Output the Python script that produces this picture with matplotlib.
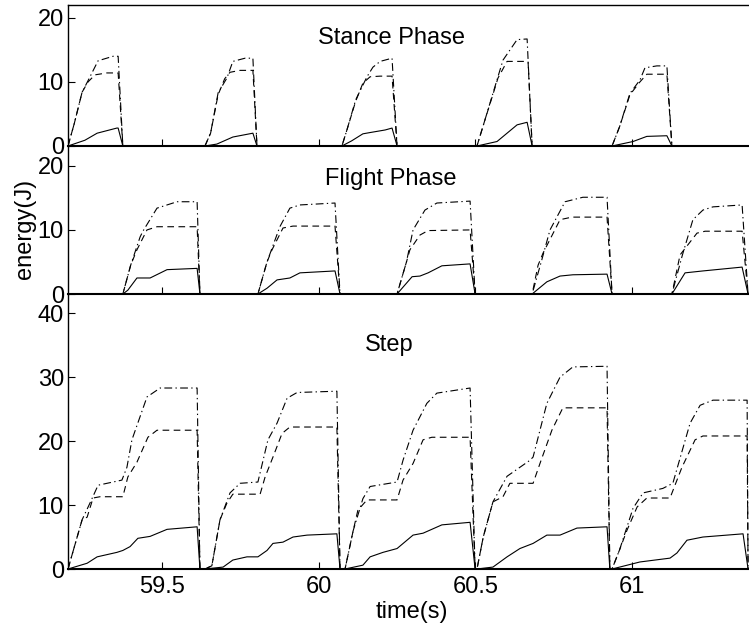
import matplotlib
matplotlib.use("Agg")
import matplotlib.pyplot as plt
import numpy as np

plt.rcParams['font.family'] = ['Liberation Sans', 'DejaVu Sans']

# ---------------- data (time in s, energy in J) ----------------
stance_t_solid = [59.2, 59.254, 59.293, 59.356, 59.360, 59.375,
                  59.637, 59.675, 59.726, 59.790, 59.803,
                  60.074, 60.105, 60.141, 60.164, 60.212, 60.234, 60.250,
                  60.505, 60.569, 60.601, 60.633, 60.665, 60.681,
                  60.936, 61.003, 61.047, 61.111, 61.127, 61.373]
stance_y_solid = [0, 0.9, 2.0, 2.8, 2.8, 0,
                  0, 0.3, 1.4, 2.0, 0,
                  0, 0.8, 1.9, 2.1, 2.5, 2.8, 0,
                  0, 0.7, 2.0, 3.3, 3.7, 0,
                  0, 0.7, 1.5, 1.6, 0, 0]

stance_t_dash = [59.2, 59.22, 59.245, 59.264, 59.286, 59.324, 59.360, 59.375,
                 59.637, 59.655, 59.679, 59.700, 59.717, 59.749, 59.790, 59.803,
                 60.074, 60.09, 60.118, 60.141, 60.164, 60.196, 60.234, 60.250,
                 60.505, 60.53, 60.562, 60.572, 60.601, 60.668, 60.681,
                 60.936, 60.96, 60.993, 61.025, 61.047, 61.111, 61.127, 61.373]
stance_y_dash = [0, 3.5, 8.4, 10.0, 11.1, 11.4, 11.4, 0,
                 0, 2.0, 8.0, 10.5, 11.5, 11.8, 11.8, 0,
                 0, 2.5, 7.0, 9.8, 10.8, 10.9, 10.9, 0,
                 0, 4.0, 9.0, 10.6, 13.2, 13.2, 0,
                 0, 3.0, 8.0, 10.0, 11.2, 11.2, 0, 0]

stance_t_dashdot = [59.2, 59.22, 59.245, 59.264, 59.296, 59.344, 59.360, 59.375,
                    59.637, 59.655, 59.679, 59.707, 59.726, 59.765, 59.790, 59.803,
                    60.074, 60.09, 60.118, 60.134, 60.154, 60.173, 60.196, 60.234, 60.250,
                    60.505, 60.53, 60.562, 60.588, 60.633, 60.665, 60.681,
                    60.936, 60.96, 60.993, 61.025, 61.041, 61.079, 61.111, 61.127, 61.373]
stance_y_dashdot = [0, 3.5, 8.4, 10.2, 13.3, 14.0, 14.0, 0,
                    0, 2.0, 8.3, 10.6, 13.2, 13.7, 13.7, 0,
                    0, 2.5, 7.2, 8.8, 10.8, 12.3, 13.2, 13.7, 0,
                    0, 4.0, 9.2, 13.4, 16.6, 16.7, 0,
                    0, 3.0, 8.2, 10.3, 12.2, 12.5, 12.5, 0, 0]

flight_t_solid = [59.2, 59.375, 59.391, 59.420, 59.462, 59.516, 59.612, 59.621,
                  59.806, 59.835, 59.867, 59.908, 59.940, 60.052, 60.068,
                  60.250, 60.298, 60.323, 60.349, 60.393, 60.483, 60.499,
                  60.681, 60.728, 60.770, 60.811, 60.920, 60.936,
                  61.127, 61.169, 61.226, 61.351, 61.370]
flight_y_solid = [0, 0, 0.6, 2.5, 2.5, 3.8, 4.0, 0,
                  0, 0.9, 2.2, 2.5, 3.3, 3.6, 0,
                  0, 2.7, 2.8, 3.3, 4.4, 4.7, 0,
                  0, 1.9, 2.8, 3.0, 3.1, 0,
                  0, 3.3, 3.6, 4.2, 0]

flight_t_dash = [59.2, 59.375, 59.40, 59.420, 59.452, 59.484, 59.612, 59.621,
                 59.806, 59.835, 59.851, 59.886, 59.918, 60.052, 60.068,
                 60.250, 60.28, 60.291, 60.323, 60.349, 60.483, 60.499,
                 60.681, 60.70, 60.716, 60.770, 60.808, 60.920, 60.936,
                 61.127, 61.153, 61.207, 61.233, 61.351, 61.370]
flight_y_dash = [0, 0, 4.5, 6.9, 10.0, 10.5, 10.5, 0,
                 0, 5.0, 6.9, 10.3, 10.6, 10.6, 0,
                 0, 5.0, 6.9, 9.2, 9.9, 10.0, 0,
                 0, 4.5, 6.4, 11.6, 12.0, 12.0, 0,
                 0, 6.1, 9.5, 9.8, 9.8, 0]

flight_t_dashdot = [59.2, 59.375, 59.40, 59.430, 59.439, 59.484, 59.548, 59.612, 59.621,
                    59.806, 59.835, 59.876, 59.908, 59.940, 60.052, 60.068,
                    60.250, 60.28, 60.301, 60.339, 60.377, 60.483, 60.499,
                    60.681, 60.71, 60.738, 60.786, 60.843, 60.920, 60.936,
                    61.127, 61.16, 61.194, 61.226, 61.258, 61.351, 61.370]
flight_y_dashdot = [0, 0, 4.5, 8.9, 9.8, 13.4, 14.4, 14.4, 0,
                    0, 5.0, 10.5, 13.4, 13.9, 14.2, 0,
                    0, 5.0, 10.0, 13.1, 14.2, 14.5, 0,
                    0, 5.0, 10.0, 14.4, 15.1, 15.1, 0,
                    0, 6.0, 11.6, 13.1, 13.6, 13.9, 0]

step_t_solid = [59.2, 59.261, 59.293, 59.356, 59.375, 59.398, 59.423, 59.462, 59.516, 59.612, 59.621,
                59.637, 59.695, 59.726, 59.771, 59.806, 59.835, 59.854, 59.886, 59.918, 59.963, 60.058, 60.068,
                60.084, 60.141, 60.164, 60.205, 60.250, 60.301, 60.333, 60.393, 60.483, 60.499,
                60.505, 60.556, 60.601, 60.642, 60.684, 60.728, 60.770, 60.824, 60.920, 60.929,
                60.936, 61.025, 61.121, 61.143, 61.175, 61.226, 61.354, 61.370]
step_y_solid = [0, 0.9, 1.9, 2.6, 2.9, 3.5, 4.8, 5.1, 6.2, 6.6, 0,
                0, 0.3, 1.4, 1.9, 1.9, 2.9, 4.0, 4.2, 5.0, 5.3, 5.5, 0,
                0, 0.6, 1.9, 2.6, 3.2, 5.3, 5.6, 6.9, 7.3, 0,
                0, 0.3, 1.9, 3.2, 4.0, 5.3, 5.3, 6.4, 6.6, 0,
                0, 1.1, 1.7, 2.5, 4.5, 5.0, 5.5, 0]

step_t_dash = [59.2, 59.245, 59.261, 59.280, 59.302, 59.375, 59.391, 59.420, 59.455, 59.484, 59.612, 59.621,
               59.637, 59.659, 59.685, 59.707, 59.726, 59.813, 59.829, 59.854, 59.883, 59.908, 60.058, 60.068,
               60.084, 60.11, 60.125, 60.154, 60.250, 60.269, 60.301, 60.333, 60.361, 60.483, 60.499,
               60.505, 60.525, 60.556, 60.588, 60.610, 60.684, 60.706, 60.744, 60.779, 60.920, 60.929,
               60.936, 60.96, 60.984, 61.016, 61.047, 61.121, 61.159, 61.201, 61.226, 61.367, 61.370]
step_y_dash = [0, 7.7, 8.1, 11.1, 11.3, 11.3, 14.4, 16.7, 20.6, 21.7, 21.7, 0,
               0, 0.5, 7.7, 10.3, 11.7, 11.7, 14.4, 17.5, 21.2, 22.2, 22.2, 0,
               0, 6.0, 9.2, 10.8, 10.8, 13.9, 16.5, 20.2, 20.6, 20.6, 0,
               0, 5.0, 10.5, 11.3, 13.4, 13.4, 16.5, 21.7, 25.2, 25.2, 0,
               0, 3.0, 6.1, 9.7, 11.1, 11.1, 15.9, 20.2, 20.8, 20.8, 0]

step_t_dashdot = [59.2, 59.245, 59.270, 59.296, 59.372, 59.388, 59.404, 59.452, 59.494, 59.612, 59.621,
                  59.637, 59.659, 59.685, 59.717, 59.749, 59.806, 59.838, 59.867, 59.899, 59.931, 60.058, 60.068,
                  60.084, 60.11, 60.141, 60.164, 60.250, 60.269, 60.301, 60.345, 60.377, 60.483, 60.499,
                  60.505, 60.525, 60.556, 60.601, 60.674, 60.684, 60.728, 60.770, 60.811, 60.920, 60.929,
                  60.936, 60.96, 61.003, 61.035, 61.098, 61.130, 61.185, 61.217, 61.258, 61.367, 61.370]
step_y_dashdot = [0, 7.7, 10.3, 13.1, 13.9, 15.9, 20.2, 26.9, 28.3, 28.3, 0,
                  0, 0.5, 7.7, 11.9, 13.4, 13.6, 20.2, 22.8, 26.7, 27.6, 27.8, 0,
                  0, 6.0, 11.0, 12.9, 13.6, 17.0, 21.7, 25.9, 27.5, 28.3, 0,
                  0, 5.0, 10.5, 14.5, 17.0, 17.5, 25.9, 30.0, 31.6, 31.7, 0,
                  0, 3.0, 9.5, 11.9, 12.6, 13.4, 22.8, 25.6, 26.4, 26.4, 0]

panel_titles = ["Stance Phase", "Flight Phase", "Step"]
x_ticks = [59.5, 60, 60.5, 61]
x_ticklabels = ["59.5", "60", "60.5", "61"]
y_ticks_small = [0, 10, 20]
y_ticks_step = [0, 10, 20, 30, 40]

# ---------------- figure ----------------
W, H = 749, 631
fig = plt.figure(figsize=(W / 100, H / 100), dpi=100)

left = 68 / W
width = 1 - left
def box(top_px, bot_px):
    return [left, 1 - bot_px / H, width, (bot_px - top_px) / H]

ax_st = fig.add_axes(box(5, 146))
ax_fl = fig.add_axes(box(146, 294))
ax_sp = fig.add_axes(box(294, 569))

xlim = (59.2, 61.373)
lw = 0.8
fs = 17

panels = [
    (ax_st, stance_t_solid, stance_y_solid, stance_t_dash, stance_y_dash,
     stance_t_dashdot, stance_y_dashdot, (0, 22), y_ticks_small),
    (ax_fl, flight_t_solid, flight_y_solid, flight_t_dash, flight_y_dash,
     flight_t_dashdot, flight_y_dashdot, (0, 23.1), y_ticks_small),
    (ax_sp, step_t_solid, step_y_solid, step_t_dash, step_y_dash,
     step_t_dashdot, step_y_dashdot, (0, 43), y_ticks_step),
]

for i, (ax, ts, ys, td, yd, tdd, ydd, ylim, yt) in enumerate(panels):
    ax.plot(ts, ys, color='black', lw=lw, ls='-', clip_on=False)
    ax.plot(td, yd, color='black', lw=lw, dashes=(6, 4))
    ax.plot(tdd, ydd, color='black', lw=lw, dashes=(7, 3, 1.2, 3))
    ax.set_xlim(*xlim)
    ax.set_ylim(*ylim)
    ax.set_xticks(x_ticks)
    ax.set_yticks(yt)
    ax.set_yticklabels([str(v) for v in yt])
    ax.tick_params(direction='in', length=5, width=0.8, labelsize=fs,
                   top=False, right=False)
    ax.tick_params(axis='y', pad=3)
    ax.tick_params(axis='x', pad=5)
    ax.spines['right'].set_visible(False)
    ax.spines['left'].set_linewidth(1.0)
    ax.spines['bottom'].set_linewidth(1.5)
    ax.spines['top'].set_linewidth(1.0)
    if i > 0:
        ax.spines['top'].set_visible(False)
    if i < 2:
        ax.set_xticklabels([])
    else:
        ax.set_xticklabels(x_ticklabels)
    ax.patch.set_alpha(0)

fig.text(392 / W, 1 - 38 / H, panel_titles[0], fontsize=fs, ha='center', va='center')
fig.text(391 / W, 1 - 179 / H, panel_titles[1], fontsize=fs, ha='center', va='center')
fig.text(389 / W, 1 - 345 / H, panel_titles[2], fontsize=fs, ha='center', va='center')

fig.text(25 / W, 1 - 229 / H, "energy(J)", fontsize=fs, rotation=90,
         ha='center', va='center')
fig.text(412 / W, 1 - 612 / H, "time(s)", fontsize=fs, ha='center', va='center')

fig.savefig("out.png", dpi=100)
